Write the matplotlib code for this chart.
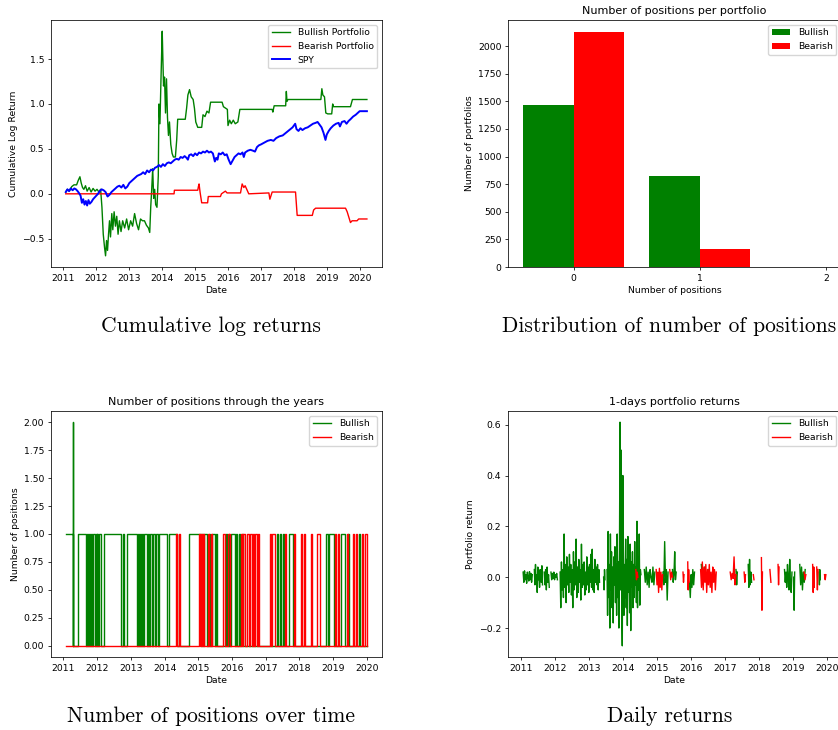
import numpy as np
import pandas as pd
import matplotlib
matplotlib.use('Agg')
import matplotlib.pyplot as plt
import matplotlib.dates as mdates

# ---- Datos (anio decimal, valor) ----

# Retorno logaritmico acumulado
bull_cum_t = [2011.07, 2011.12, 2011.18, 2011.25, 2011.32, 2011.40, 2011.45, 2011.50, 2011.54, 2011.58,
              2011.62, 2011.67, 2011.72, 2011.78, 2011.84, 2011.90, 2011.96, 2012.02, 2012.08, 2012.13,
              2012.17, 2012.21, 2012.25, 2012.28, 2012.31, 2012.34, 2012.37, 2012.40, 2012.43, 2012.47,
              2012.50, 2012.54, 2012.58, 2012.62, 2012.66, 2012.70, 2012.75, 2012.80, 2012.86, 2012.92,
              2012.98, 2013.04, 2013.10, 2013.16, 2013.22, 2013.28, 2013.34, 2013.40, 2013.46, 2013.52,
              2013.58, 2013.62, 2013.65, 2013.68, 2013.71, 2013.74, 2013.77, 2013.80, 2013.84, 2013.88,
              2013.90, 2013.93, 2013.96, 2014.00, 2014.02, 2014.04, 2014.07, 2014.10, 2014.13, 2014.16,
              2014.19, 2014.22, 2014.26, 2014.30, 2014.34, 2014.40, 2014.44, 2014.47, 2014.55, 2014.70,
              2014.74, 2014.78, 2014.83, 2014.88, 2014.94, 2014.98, 2015.02, 2015.08, 2015.20, 2015.24,
              2015.30, 2015.36, 2015.42, 2015.47, 2015.82, 2015.86, 2015.98, 2016.00, 2016.05, 2016.10,
              2016.16, 2016.22, 2016.30, 2016.36, 2017.34, 2017.36, 2017.40, 2017.75, 2017.77, 2017.79,
              2017.82, 2018.82, 2018.85, 2018.88, 2018.93, 2018.97, 2019.03, 2019.15, 2019.18, 2019.20,
              2019.72, 2019.78, 2020.22]
bull_cum_v = [0.02, 0.05, 0.03, 0.08, 0.10, 0.10, 0.15, 0.19, 0.12, 0.07,
              0.05, 0.09, 0.03, 0.07, 0.02, 0.06, 0.03, 0.05, 0.02, 0.05,
              -0.15, -0.45, -0.60, -0.69, -0.52, -0.63, -0.45, -0.30, -0.48, -0.22,
              -0.40, -0.20, -0.36, -0.25, -0.45, -0.30, -0.42, -0.30, -0.38, -0.28,
              -0.40, -0.30, -0.36, -0.22, -0.33, -0.40, -0.28, -0.30, -0.30, -0.35,
              -0.38, -0.43, -0.15, 0.05, 0.28, -0.05, 0.05, -0.12, -0.15, 0.20,
              1.00, 0.78, 1.25, 1.81, 1.50, 1.20, 1.30, 0.90, 1.28, 0.85,
              0.65, 0.80, 0.55, 0.45, 0.41, 0.41, 0.60, 0.83, 0.83, 0.83,
              0.95, 1.10, 1.16, 1.08, 1.05, 0.95, 0.80, 0.74, 0.74, 0.88,
              0.86, 0.92, 0.90, 1.02, 1.02, 0.97, 0.94, 0.76, 0.82, 0.78,
              0.82, 0.78, 0.80, 0.94, 0.94, 0.91, 0.98, 0.98, 1.14, 1.03,
              1.05, 1.05, 1.17, 1.10, 1.08, 0.90, 0.89, 0.89, 1.00, 0.97,
              0.97, 1.05, 1.05]

bear_cum_t = [2011.07, 2014.36, 2014.37, 2015.08, 2015.10, 2015.12, 2015.15, 2015.20, 2015.38, 2015.40,
              2015.77, 2015.80, 2015.92, 2015.97, 2016.38, 2016.43, 2016.48, 2016.52, 2016.57, 2016.63,
              2017.24, 2017.27, 2017.34, 2018.05, 2018.10, 2018.56, 2018.60, 2018.66, 2019.57, 2019.62,
              2019.72, 2019.77, 2019.92, 2019.97, 2020.22]
bear_cum_v = [0.00, 0.00, 0.04, 0.04, 0.08, 0.11, 0.02, -0.10, -0.10, -0.03,
              -0.03, 0.00, 0.03, 0.01, 0.01, 0.11, 0.07, 0.09, 0.05, 0.00,
              0.01, -0.06, 0.02, 0.02, -0.24, -0.24, -0.18, -0.16, -0.16, -0.20,
              -0.32, -0.30, -0.30, -0.28, -0.28]

spy_t = [2011.07, 2011.12, 2011.17, 2011.22, 2011.28, 2011.33, 2011.38, 2011.43, 2011.47, 2011.52,
         2011.56, 2011.60, 2011.64, 2011.68, 2011.72, 2011.76, 2011.80, 2011.85, 2011.90, 2011.95,
         2012.00, 2012.05, 2012.10, 2012.16, 2012.22, 2012.28, 2012.34, 2012.40, 2012.46, 2012.52,
         2012.58, 2012.64, 2012.70, 2012.76, 2012.82, 2012.88, 2012.94, 2013.00, 2013.06, 2013.12,
         2013.18, 2013.24, 2013.30, 2013.36, 2013.42, 2013.48, 2013.54, 2013.60, 2013.66, 2013.72,
         2013.78, 2013.84, 2013.90, 2013.96, 2014.02, 2014.08, 2014.14, 2014.20, 2014.26, 2014.32,
         2014.38, 2014.44, 2014.50, 2014.56, 2014.62, 2014.68, 2014.74, 2014.78, 2014.82, 2014.88,
         2014.94, 2015.00, 2015.06, 2015.12, 2015.18, 2015.24, 2015.30, 2015.36, 2015.42, 2015.48,
         2015.54, 2015.60, 2015.64, 2015.68, 2015.72, 2015.78, 2015.84, 2015.90, 2015.96, 2016.02,
         2016.08, 2016.14, 2016.20, 2016.26, 2016.32, 2016.38, 2016.44, 2016.48, 2016.52, 2016.60,
         2016.68, 2016.76, 2016.82, 2016.88, 2016.94, 2017.00, 2017.10, 2017.20, 2017.30, 2017.38,
         2017.46, 2017.56, 2017.66, 2017.76, 2017.86, 2017.96, 2018.04, 2018.08, 2018.14, 2018.20,
         2018.26, 2018.34, 2018.42, 2018.50, 2018.58, 2018.66, 2018.72, 2018.78, 2018.84, 2018.90,
         2018.96, 2019.00, 2019.06, 2019.12, 2019.20, 2019.28, 2019.36, 2019.40, 2019.46, 2019.54,
         2019.60, 2019.66, 2019.72, 2019.80, 2019.88, 2019.94, 2020.00, 2020.22]
spy_v = [0.02, 0.05, 0.03, 0.06, 0.04, 0.06, 0.05, 0.03, 0.01, -0.02,
         -0.10, -0.06, -0.12, -0.08, -0.13, -0.07, -0.11, -0.09, -0.06, -0.04,
         -0.02, 0.00, 0.03, 0.05, 0.04, 0.02, -0.03, -0.01, 0.02, 0.04,
         0.06, 0.08, 0.09, 0.07, 0.10, 0.06, 0.08, 0.12, 0.14, 0.16,
         0.18, 0.20, 0.21, 0.22, 0.24, 0.22, 0.26, 0.24, 0.27, 0.26,
         0.29, 0.30, 0.32, 0.30, 0.33, 0.31, 0.34, 0.35, 0.34, 0.36,
         0.38, 0.39, 0.38, 0.41, 0.40, 0.42, 0.40, 0.38, 0.43, 0.44,
         0.42, 0.45, 0.43, 0.46, 0.45, 0.47, 0.46, 0.48, 0.46, 0.47,
         0.45, 0.36, 0.40, 0.38, 0.45, 0.44, 0.46, 0.43, 0.44, 0.38,
         0.33, 0.37, 0.41, 0.43, 0.45, 0.44, 0.46, 0.41, 0.46, 0.48,
         0.49, 0.48, 0.47, 0.52, 0.54, 0.55, 0.57, 0.59, 0.60, 0.59,
         0.62, 0.64, 0.65, 0.68, 0.71, 0.74, 0.78, 0.72, 0.70, 0.73,
         0.71, 0.73, 0.74, 0.76, 0.78, 0.79, 0.80, 0.77, 0.74, 0.68,
         0.60, 0.66, 0.70, 0.73, 0.76, 0.78, 0.79, 0.75, 0.80, 0.81,
         0.78, 0.81, 0.83, 0.86, 0.88, 0.90, 0.92, 0.92]

# Numero de posiciones por portafolio (histograma)
n_posiciones = [0, 1, 2]
bull_conteo = [1470, 824, 1]
bear_posiciones = [0, 1]
bear_conteo = [2130, 165]

# Periodos con posicion abierta (inicio, fin, nivel)
bull_intervalos = [(2011.07, 2011.27, 1), (2011.27, 2011.29, 2), (2011.43, 2011.66, 1), (2011.70, 2011.72, 1),
                   (2011.75, 2011.80, 1), (2011.83, 2011.86, 1), (2011.89, 2011.93, 1), (2011.96, 2011.99, 1),
                   (2012.01, 2012.04, 1), (2012.07, 2012.11, 1), (2012.20, 2012.72, 1), (2012.76, 2012.79, 1),
                   (2012.88, 2013.18, 1), (2013.21, 2013.23, 1), (2013.26, 2013.30, 1), (2013.33, 2013.36, 1),
                   (2013.39, 2013.49, 1), (2013.52, 2013.55, 1), (2013.58, 2013.63, 1), (2013.66, 2013.71, 1),
                   (2013.74, 2013.80, 1), (2013.83, 2014.08, 1), (2014.13, 2014.38, 1), (2014.72, 2015.07, 1),
                   (2015.10, 2015.13, 1), (2015.18, 2015.27, 1), (2015.33, 2015.36, 1), (2015.40, 2015.50, 1),
                   (2015.53, 2015.56, 1), (2015.82, 2015.86, 1), (2015.90, 2015.92, 1), (2015.97, 2016.08, 1),
                   (2016.12, 2016.15, 1), (2016.20, 2016.24, 1), (2016.30, 2016.33, 1), (2017.32, 2017.36, 1),
                   (2017.42, 2017.45, 1), (2017.52, 2017.55, 1), (2017.68, 2017.80, 1), (2018.80, 2018.84, 1),
                   (2018.88, 2019.03, 1), (2019.22, 2019.36, 1), (2019.45, 2019.48, 1), (2019.76, 2019.80, 1)]
bear_intervalos = [(2014.34, 2014.37, 1), (2014.42, 2014.45, 1), (2015.02, 2015.05, 1), (2015.08, 2015.10, 1),
                   (2015.14, 2015.17, 1), (2015.29, 2015.32, 1), (2015.37, 2015.42, 1), (2015.74, 2015.79, 1),
                   (2015.88, 2015.95, 1), (2016.26, 2016.29, 1), (2016.34, 2016.40, 1), (2016.43, 2016.50, 1),
                   (2016.53, 2016.60, 1), (2016.62, 2016.66, 1), (2016.69, 2016.74, 1), (2016.78, 2016.80, 1),
                   (2017.12, 2017.15, 1), (2017.18, 2017.27, 1), (2017.58, 2017.61, 1), (2017.84, 2017.86, 1),
                   (2018.05, 2018.08, 1), (2018.12, 2018.15, 1), (2018.35, 2018.38, 1), (2018.53, 2018.60, 1),
                   (2019.05, 2019.07, 1), (2019.15, 2019.18, 1), (2019.40, 2019.43, 1), (2019.58, 2019.62, 1),
                   (2019.68, 2019.72, 1), (2019.84, 2019.87, 1), (2019.94, 2020.00, 1)]
pos_inicio, pos_fin = 2011.07, 2020.0

# Retornos diarios por tramo (inicio, fin, valores)
bull_tramos = [
    (2011.05, 2011.32, [0.02, -0.02, 0.025, -0.01, 0.01, -0.024, 0.02, 0.0, -0.015, 0.022, -0.01, 0.015, -0.02, 0.01]),
    (2011.38, 2011.62, [0.03, -0.03, 0.05, -0.02, 0.01, -0.06, 0.04, -0.01, 0.02, -0.04, 0.03, 0.0, -0.02, 0.045, -0.03]),
    (2011.67, 2011.82, [0.02, -0.03, 0.03, -0.05, 0.04, -0.02, 0.01, -0.04]),
    (2011.87, 2012.06, [0.02, -0.01, 0.015, -0.005, 0.02, -0.01, 0.01, 0.0, 0.015, -0.01]),
    (2012.14, 2013.30, [0.02, -0.12, 0.06, -0.05, 0.03, -0.08, 0.17, -0.04, 0.05, -0.10, 0.08, -0.03, 0.04, -0.06,
                        0.09, -0.02, 0.05, -0.07, 0.03, -0.12, 0.10, -0.05, 0.06, -0.03, 0.15, -0.08, 0.04, -0.06,
                        0.07, -0.02, 0.03, -0.09, 0.13, -0.04, 0.05, -0.03, 0.06, -0.07, 0.02, -0.05, 0.08, -0.03,
                        0.04, -0.06, 0.05, -0.02, 0.09, -0.04, 0.11, -0.05, 0.03, -0.06, 0.07, -0.02, 0.04, -0.03,
                        0.05, -0.05, 0.03, -0.02]),
    (2013.42, 2013.46, [0.0, -0.05, 0.03, -0.01]),
    (2013.52, 2014.52, [0.03, -0.15, 0.18, -0.08, 0.05, -0.20, 0.17, -0.05, 0.10, -0.12, 0.04, -0.18, 0.08, -0.03,
                        0.12, -0.10, 0.05, -0.15, 0.17, -0.08, 0.06, -0.20, 0.08, 0.61, -0.05, 0.50, -0.10, -0.27,
                        0.40, 0.10, -0.15, 0.05, -0.08, 0.15, -0.12, 0.07, -0.19, 0.16, -0.06, 0.08, -0.14, 0.13,
                        -0.21, 0.06, -0.04, 0.10, -0.12, 0.05, -0.08, 0.14, -0.03, 0.04, -0.10, 0.22, -0.12, 0.08,
                        -0.05, 0.17, -0.11, 0.03, 0.01]),
    (2014.62, 2014.93, [0.03, -0.02, 0.04, -0.03, 0.02, -0.04, 0.03, 0.0, -0.02, 0.04, -0.03, 0.02]),
    (2015.17, 2015.32, [0.02, -0.03, 0.14, -0.02, 0.03, -0.09, 0.02]),
    (2015.45, 2015.56, [0.03, -0.02, 0.01, 0.10, -0.01, 0.02]),
    (2015.95, 2016.10, [-0.02, -0.08, 0.01, -0.04, 0.03, -0.03, 0.02]),
    (2016.30, 2016.50, [0.05, -0.03, 0.04, -0.02, 0.03]),
    (2017.32, 2017.36, [0.03, -0.03, 0.02]),
    (2017.68, 2017.78, [0.05, -0.04, 0.07, -0.03, 0.02, -0.02]),
    (2018.75, 2018.97, [0.03, -0.02, 0.02, -0.04, 0.05, 0.0, -0.05, 0.07, -0.03, -0.06, 0.02]),
    (2019.02, 2019.05, [0.0, -0.13, 0.02]),
    (2019.20, 2019.36, [0.05, -0.03, 0.04, -0.05, 0.02, -0.02, 0.03]),
    (2019.77, 2019.80, [0.02, -0.03, 0.03, -0.01]),
]
bear_tramos = [
    (2014.37, 2014.43, [0.03, -0.01, 0.02, 0.0]),
    (2014.97, 2015.16, [0.03, -0.03, 0.02, -0.06, 0.035, -0.04, 0.02, -0.05, 0.01]),
    (2015.37, 2015.45, [0.03, -0.01, 0.02, 0.0]),
    (2015.76, 2015.79, [0.02, -0.02, 0.01]),
    (2015.90, 2015.94, [0.06, -0.05, 0.03, -0.02]),
    (2016.28, 2016.74, [0.03, -0.04, 0.06, -0.05, 0.04, -0.02, 0.05, -0.06, 0.03, -0.03, 0.05, -0.04, 0.02,
                        -0.06, 0.04, -0.02, 0.03, -0.05, 0.02]),
    (2017.15, 2017.32, [0.02, -0.01, 0.015, -0.005, 0.08, -0.03, 0.01]),
    (2017.56, 2017.60, [0.02, -0.02, 0.01]),
    (2017.83, 2017.85, [0.01, -0.01]),
    (2018.07, 2018.10, [0.077, -0.13, 0.02]),
    (2018.32, 2018.35, [0.03, -0.02]),
    (2018.56, 2018.59, [0.05, -0.03, 0.04]),
    (2019.33, 2019.38, [0.02, -0.01, 0.01]),
    (2019.58, 2019.63, [0.05, -0.06, 0.04, -0.04]),
    (2019.70, 2019.74, [0.04, -0.05, 0.03]),
    (2019.93, 2019.97, [0.01, -0.01, 0.01]),
]


def fechas(anios):
    # anio decimal -> fecha
    anios = np.asarray(anios, dtype=float)
    base = pd.to_datetime(anios.astype(int).astype(str), format='%Y')
    return base + pd.to_timedelta((anios % 1) * 365.25, unit='D')


def escalones(intervalos, t0, t1):
    t, v = [], []
    if intervalos[0][0] > t0:
        t.append(t0)
        v.append(0)
    for a, b, nivel in intervalos:
        t += [a, b]
        v += [nivel, 0]
    t.append(t1)
    v.append(0)
    return fechas(t), v


def formato_fechas(ax):
    ax.xaxis.set_major_locator(mdates.YearLocator(1))
    ax.xaxis.set_major_formatter(mdates.DateFormatter('%Y'))


plt.rcParams.update({
    'font.size': 6.7,
    'axes.titlesize': 8,
    'axes.labelsize': 6.7,
    'legend.fontsize': 6.7,
    'lines.linewidth': 1.0,
    'axes.linewidth': 0.55,
    'xtick.major.width': 0.55,
    'ytick.major.width': 0.55,
    'xtick.major.size': 2.4,
    'ytick.major.size': 2.4,
    'xtick.major.pad': 2.3,
    'ytick.major.pad': 2.3,
    'axes.titlepad': 4.0,
    'axes.labelpad': 2.6,
})

fig = plt.figure(figsize=(8.38, 7.30), dpi=100)
ax1 = fig.add_axes([0.0605, 0.6342, 0.3953, 0.3384])
ax2 = fig.add_axes([0.6062, 0.6342, 0.3974, 0.3384])
ax3 = fig.add_axes([0.0605, 0.1000, 0.3953, 0.3370])
ax4 = fig.add_axes([0.6062, 0.1000, 0.3974, 0.3370])

# 1. Retorno acumulado
ax1.plot(fechas(bull_cum_t), bull_cum_v, color='green', label='Bullish Portfolio')
ax1.plot(fechas(bear_cum_t), bear_cum_v, color='red', label='Bearish Portfolio')
ax1.plot(fechas(spy_t), spy_v, color='blue', lw=1.4, label='SPY')
ax1.set_xlabel('Date')
ax1.set_ylabel('Cumulative Log Return')
formato_fechas(ax1)
ax1.legend(loc='upper right')

# 2. Distribucion del numero de posiciones
ax2.bar(np.array(n_posiciones) - 0.2, bull_conteo, 0.4, color='green', label='Bullish')
ax2.bar(np.array(bear_posiciones) + 0.2, bear_conteo, 0.4, color='red', label='Bearish')
ax2.set_xticks(n_posiciones)
ax2.set_title('Number of positions per portfolio')
ax2.set_xlabel('Number of positions')
ax2.set_ylabel('Number of portfolios')
ax2.legend(loc='upper right')

# 3. Posiciones a lo largo del tiempo
t, v = escalones(bull_intervalos, pos_inicio, pos_fin)
ax3.plot(t, v, color='green', drawstyle='steps-post', label='Bullish')
t, v = escalones(bear_intervalos, pos_inicio, pos_fin)
ax3.plot(t, v, color='red', drawstyle='steps-post', label='Bearish')
ax3.set_title('Number of positions through the years')
ax3.set_xlabel('Date')
ax3.set_ylabel('Number of positions')
formato_fechas(ax3)
ax3.legend(loc='upper right')

# 4. Retornos diarios
for i, (a, b, vals) in enumerate(bull_tramos):
    ax4.plot(fechas(np.linspace(a, b, len(vals))), vals, color='green',
             label='Bullish' if i == 0 else None)
for i, (a, b, vals) in enumerate(bear_tramos):
    ax4.plot(fechas(np.linspace(a, b, len(vals))), vals, color='red',
             label='Bearish' if i == 0 else None)
ax4.set_title('1-days portfolio returns')
ax4.set_xlabel('Date')
ax4.set_ylabel('Portfolio return')
formato_fechas(ax4)
ax4.legend(loc='upper right')

# Leyendas de las subfiguras
cap = dict(family='cmr10', size=15.5, ha='center', va='center')
fig.text(210.5 / 838, 1 - 326 / 730, 'Cumulative log returns', **cap)
fig.text(669 / 838, 1 - 326 / 730, 'Distribution of number of positions', **cap)
fig.text(211 / 838, 1 - 716 / 730, 'Number of positions over time', **cap)
fig.text(669.5 / 838, 1 - 716 / 730, 'Daily returns', **cap)

fig.savefig('out.png', dpi=100)
